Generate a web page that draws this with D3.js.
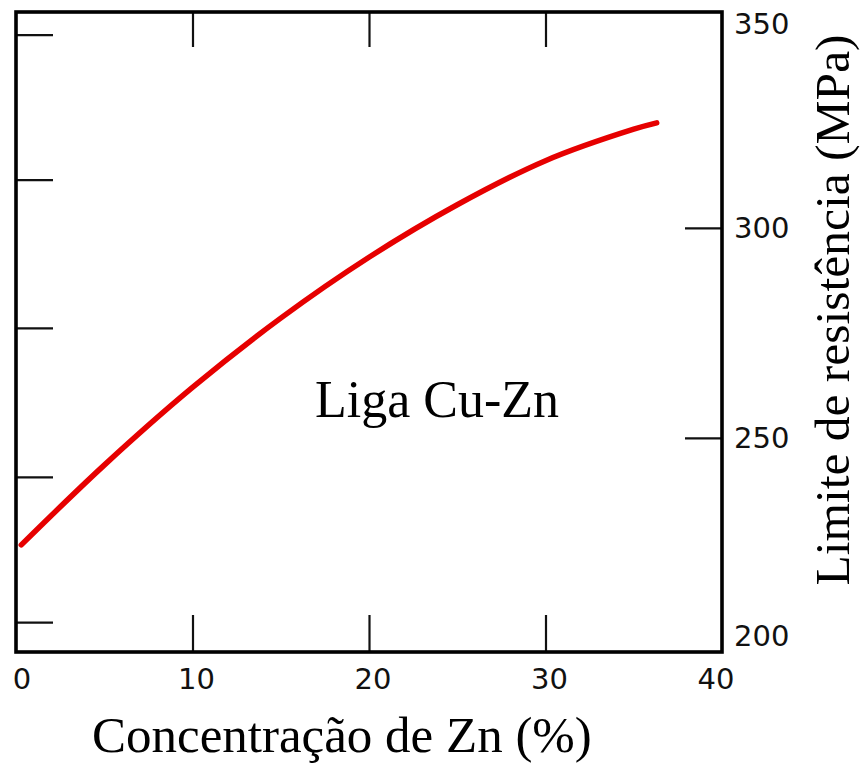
<!DOCTYPE html>
<html><head><meta charset="utf-8">
<script src="https://cdn.jsdelivr.net/npm/d3@7"></script>
<style>html,body{margin:0;padding:0;background:#fff;}svg{display:block;}</style>
</head><body>
<svg id="chart" width="860" height="763"></svg>
<script>
// Data
const znPct    = [0.3, 5, 10, 15, 20, 25, 30, 35, 36.3];
const strength = [224.5, 243.5, 262, 278.5, 293, 305.5, 316, 323.5, 325];
const xTicks = [0, 10, 20, 30, 40];
const xInnerTicks = [10, 20, 30];
const yRightTicks = [200, 250, 300, 350];
const yRightInnerTicks = [250, 300];
const yLeftTicks = [206.1, 240.7, 276.2, 311.5, 346.0]; // unlabeled secondary-axis ticks (MPa equiv.)
const xLabel = "Concentração de Zn (%)";
const yLabel = "Limite de resistência (MPa)";
const note = "Liga Cu-Zn";

const svg = d3.select("#chart");
const L = 16, R = 722, T = 12, B = 652;
const x = d3.scaleLinear().domain([0, 40]).range([L, R]);
const y = d3.scaleLinear().domain([199, 351.4]).range([B, T]);
const tickLen = 37;

// inner ticks
const gTicks = svg.append("g");
gTicks.append("g").attr("transform", `translate(0,${B})`)
  .call(d3.axisBottom(x).tickValues(xInnerTicks).tickSize(-tickLen).tickFormat(""))
  .call(g => g.select(".domain").remove());
gTicks.append("g").attr("transform", `translate(0,${T})`)
  .call(d3.axisTop(x).tickValues(xInnerTicks).tickSize(-tickLen + 2).tickFormat(""))
  .call(g => g.select(".domain").remove());
gTicks.append("g").attr("transform", `translate(${L},0)`)
  .call(d3.axisLeft(y).tickValues(yLeftTicks).tickSize(-tickLen).tickFormat(""))
  .call(g => g.select(".domain").remove());
gTicks.append("g").attr("transform", `translate(${R},0)`)
  .call(d3.axisRight(y).tickValues(yRightInnerTicks).tickSize(-tickLen).tickFormat(""))
  .call(g => g.select(".domain").remove());
svg.selectAll(".tick line").attr("stroke", "#111").attr("stroke-width", 2.2);

// frame
svg.append("rect").attr("x", L).attr("y", T).attr("width", R - L).attr("height", B - T)
  .attr("fill", "none").attr("stroke", "#000").attr("stroke-width", 3.6);

// tick labels
const tickFont = "'DejaVu Sans', sans-serif";
svg.append("g").selectAll("text").data(xTicks).join("text")
  .attr("x", d => x(d) + (d === 0 ? 6 : d === 40 ? -6 : 4))
  .attr("y", 689)
  .attr("text-anchor", "middle")
  .attr("font-family", tickFont).attr("font-size", 29).attr("fill", "#111")
  .text(d => d);
svg.append("g").selectAll("text").data(yRightTicks).join("text")
  .attr("x", 734)
  .attr("y", d => Math.max(24, Math.min(636, y(d))) + 10)
  .attr("font-family", tickFont).attr("font-size", 29).attr("fill", "#111")
  .text(d => d);

// curve
const pts = znPct.map((v, i) => [v, strength[i]]);
svg.append("path").datum(pts)
  .attr("fill", "none").attr("stroke", "#e60000").attr("stroke-width", 5.5)
  .attr("stroke-linecap", "round").attr("stroke-linejoin", "round")
  .attr("d", d3.line().x(d => x(d[0])).y(d => y(d[1])).curve(d3.curveCatmullRom));

// labels
const serif = "'Liberation Serif', 'Times New Roman', serif";
svg.append("text").attr("x", 315).attr("y", 417)
  .attr("font-family", serif).attr("font-size", 52).attr("fill", "#000").text(note);
svg.append("text").attr("x", 92).attr("y", 752)
  .attr("font-family", serif).attr("font-size", 51).attr("fill", "#000").text(xLabel);
svg.append("text").attr("transform", "translate(849,310) rotate(-90)")
  .attr("text-anchor", "middle")
  .attr("font-family", serif).attr("font-size", 49.5).attr("fill", "#000").text(yLabel);
</script>
</body></html>
